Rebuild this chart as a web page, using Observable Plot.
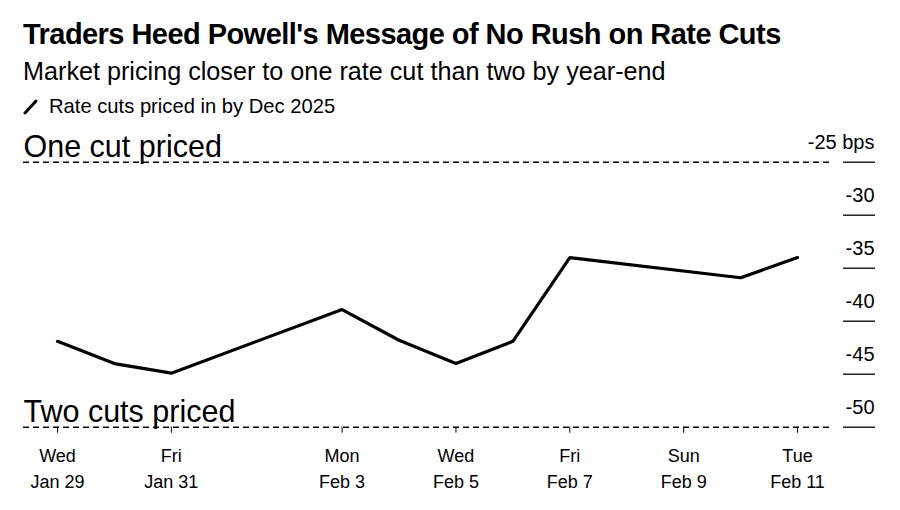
<!DOCTYPE html>
<html><head><meta charset="utf-8">
<script src="https://cdn.jsdelivr.net/npm/d3@7"></script>
<script src="https://cdn.jsdelivr.net/npm/@observablehq/plot@0.6"></script>
<style>
body{margin:0;background:#fff;font-family:"Liberation Sans",Arial,sans-serif;color:#000;width:900px;height:510px;overflow:hidden}
#head{position:relative;height:118px}
#title{position:absolute;left:23px;top:18px;font-size:29px;font-weight:bold;letter-spacing:-0.55px;white-space:nowrap}
#sub{position:absolute;left:23px;top:57px;font-size:25.2px;white-space:nowrap}
#leg{position:absolute;left:23px;top:95px;font-size:20.2px;white-space:nowrap;display:flex;align-items:center}
#leg svg{margin-right:11px}
#chart svg{display:block}
</style></head>
<body>
<div id="head">
  <div id="title">Traders Heed Powell's Message of No Rush on Rate Cuts</div>
  <div id="sub">Market pricing closer to one rate cut than two by year-end</div>
  <div id="leg"><svg width="15" height="17"><line x1="2" y1="15" x2="13" y2="3" stroke="#000" stroke-width="3" stroke-linecap="round"/></svg>Rate cuts priced in by Dec 2025</div>
</div>
<div id="chart"></div>
<script>
const dates = ["2025-01-29","2025-01-30","2025-01-31","2025-02-03","2025-02-04","2025-02-05","2025-02-06","2025-02-07","2025-02-10","2025-02-11"];
const cuts = [-41.9,-44.0,-44.9,-38.9,-41.8,-44.0,-41.9,-34.0,-35.9,-34.0];
const yTicks = [-25,-30,-35,-40,-45,-50];
const xTickDates = ["2025-01-29","2025-01-31","2025-02-03","2025-02-05","2025-02-07","2025-02-09","2025-02-11"];
const thresholdValues = [-25,-50];
const thresholdLabels = ["One cut priced","Two cuts priced"];

const parse = d3.utcParse("%Y-%m-%d");
const data = dates.map((d,i)=>({date:parse(d), v:cuts[i]}));
const thresholds = thresholdValues.map((v,i)=>({v, label:thresholdLabels[i]}));
const fmtDay = d3.utcFormat("%a"), fmtDate = d3.utcFormat("%b %-d");

const chart = Plot.plot({
  width: 900, height: 392,
  marginLeft: 23, marginRight: 70, marginTop: 43.7, marginBottom: 83.3,
  style: {fontFamily: '"Liberation Sans",Arial,sans-serif', color:"#000", background:"#fff"},
  x: {type:"utc", domain:[parse(dates[0]), parse(dates[dates.length-1])], insetLeft:34, insetRight:33, label:null},
  y: {domain:[-50,-25], label:null},
  marks: [
    Plot.ruleY(thresholds, {y:"v", stroke:"#000", strokeWidth:1.5, strokeDasharray:"6,4"}),
    Plot.text(thresholds, {y:"v", text:"label", frameAnchor:"left", textAnchor:"start", lineAnchor:"bottom", dy:-5, fontSize:30.5, fontWeight:300, fill:"#000"}),
    Plot.line(data, {x:"date", y:"v", stroke:"#000", strokeWidth:3.2, strokeLinejoin:"miter"}),
    Plot.axisY({ticks:yTicks, anchor:"right", tickSize:32, dx:12, fill:"none", strokeWidth:1.3, label:null}),
    Plot.axisY({ticks:yTicks, anchor:"right", tickSize:0, tickPadding:44, textAnchor:"end", dy:-20, fontSize:20, fill:"#000", label:null,
      tickFormat: d => d === -25 ? "-25 bps" : String(d)}),
    Plot.axisX({ticks:xTickDates.map(parse), tickSize:6, tickPadding:10, fontSize:18, lineHeight:1.45, label:null,
      tickFormat: d => fmtDay(d) + "\n" + fmtDate(d)})
  ]
});
document.getElementById("chart").appendChild(chart);
</script>
</body></html>
